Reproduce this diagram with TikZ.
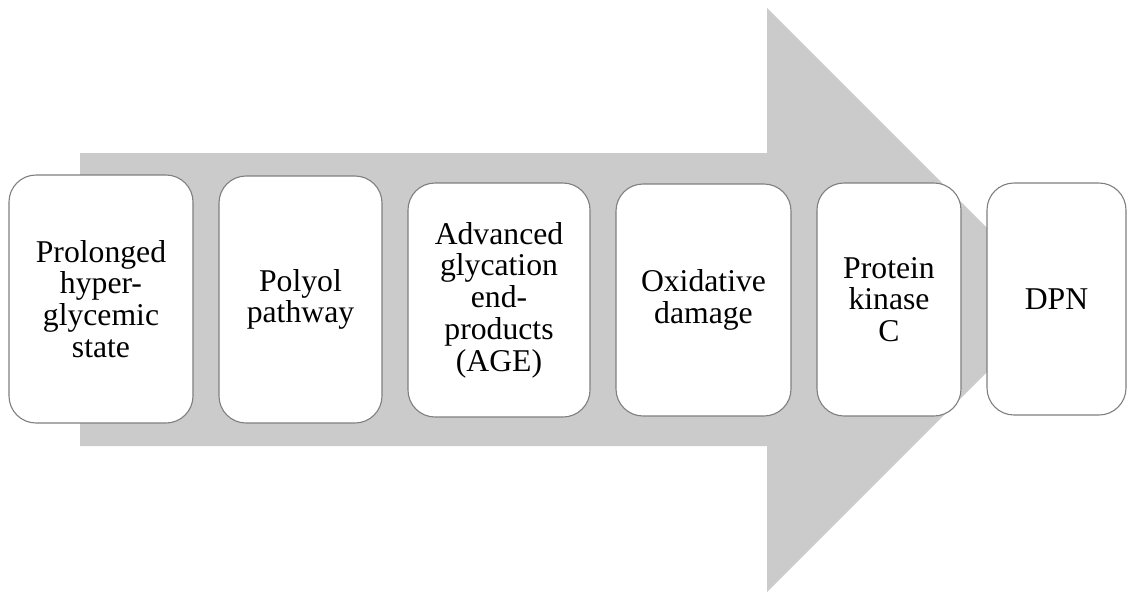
\documentclass[tikz,border=0pt]{standalone}
\usepackage{fontspec}
\setmainfont{Liberation Serif}
\definecolor{arrowgray}{HTML}{CBCBCB}
\definecolor{boxline}{HTML}{7F7F7F}
\begin{document}
\begin{tikzpicture}[x=1pt,y=-1pt,
  stepbox/.style={draw=boxline, line width=1.1pt, fill=white, rounded corners=27pt,
    inner sep=0pt, outer sep=0pt, align=center,
    font=\fontsize{31.7}{31.7}\selectfont}]
\useasboundingbox (0,0) rectangle (1127,592);
\fill[arrowgray] (80,153) -- (767,153) -- (767,8) -- (1059,300) -- (767,592) -- (767,446) -- (80,446) -- cycle;
\node[stepbox, minimum width=184pt, minimum height=248pt] (s1) at (101,299) {Prolonged\\hyper-\\glycemic\\state};
\node[stepbox, minimum width=163pt, minimum height=247pt] (s2) at (300.5,299.5) {Polyol\\pathway};
\node[stepbox, minimum width=182pt, minimum height=234pt] (s3) at (499,300) {Advanced\\glycation\\end-\\products\\(AGE)};
\node[stepbox, minimum width=175pt, minimum height=232pt] (s4) at (703.5,300) {Oxidative\\damage};
\node[stepbox, minimum width=144pt, minimum height=233pt] (s5) at (889,299.5) {Protein\\kinase\\C};
\node[stepbox, minimum width=139pt, minimum height=232pt] (s6) at (1056.5,299) {DPN};
\end{tikzpicture}
\end{document}
